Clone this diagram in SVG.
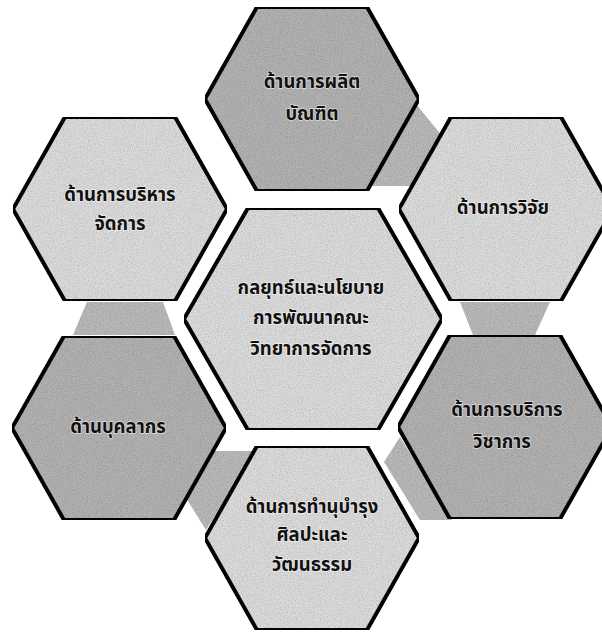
<svg xmlns="http://www.w3.org/2000/svg" width="602" height="634" viewBox="0 0 602 634">
<defs>
<polygon id="hex" points="-107,0 -55,-92 55,-92 107,0 55,92 -55,92"/>
<filter id="grain" x="0" y="0" width="100%" height="100%">
<feTurbulence type="fractalNoise" baseFrequency="0.85" numOctaves="2" seed="3" result="n"/>
<feColorMatrix in="n" type="matrix" values="0 0 0 0 0  0 0 0 0 0  0 0 0 0 0  0 0 0 -0.6 0.38" result="dark"/>
<feComposite in="dark" in2="SourceGraphic" operator="in" result="d2"/>
<feMerge><feMergeNode in="SourceGraphic"/><feMergeNode in="d2"/></feMerge>
</filter>
<style>
.hx{stroke:#111;stroke-width:4;stroke-linejoin:miter}
.light{fill:#dcdcdc}
.dark{fill:#b2b2b2}
.conn{fill:#bababa;stroke:none}
text{font-family:"Noto Sans Thai","Noto Sans Thai Looped","Tahoma","Loma","Garuda","Noto Sans",sans-serif;font-weight:bold;font-size:18.5px;fill:#111;text-anchor:middle;paint-order:stroke;stroke:#fff;stroke-width:1.5px;stroke-opacity:0.6}
</style>
</defs>
<rect width="602" height="634" fill="#fff"/>
<g id="connectors" filter="url(#grain)">
<polygon class="conn" points="416,104 442,136 412,186 371,186"/>
<polygon class="conn" points="460,302 550,302 535,335 473,335"/>
<polygon class="conn" points="384,462 400,437 452,520 420,520"/>
<polygon class="conn" points="210,451 256,451 206,530 186,498"/>
<polygon class="conn" points="87,302 163,302 175,335 73,335"/>
</g>
<g id="hex-top">
<use href="#hex" x="312" y="99" class="hx dark" filter="url(#grain)"/>
<text x="312" y="88">ด้านการผลิต</text>
<text x="312" y="120">บัณฑิต</text>
</g>
<g id="hex-topleft">
<use href="#hex" x="120" y="209" class="hx light" filter="url(#grain)"/>
<text x="120" y="201">ด้านการบริหาร</text>
<text x="120" y="230">จัดการ</text>
</g>
<g id="hex-topright">
<use href="#hex" x="506" y="209" class="hx light" filter="url(#grain)"/>
<text x="503" y="214">ด้านการวิจัย</text>
</g>
<g id="hex-center">
<polygon points="184,319 248,208 378,208 442,319 378,430 248,430" class="hx light" filter="url(#grain)"/>
<text x="311" y="294">กลยุทธ์และนโยบาย</text>
<text x="311" y="324">การพัฒนาคณะ</text>
<text x="311" y="355">วิทยาการจัดการ</text>
</g>
<g id="hex-bottomleft">
<use href="#hex" x="119" y="428" class="hx dark" filter="url(#grain)"/>
<text x="118" y="433">ด้านบุคลากร</text>
</g>
<g id="hex-bottomright">
<use href="#hex" x="505" y="427" class="hx dark" filter="url(#grain)"/>
<text x="507" y="416">ด้านการบริการ</text>
<text x="502" y="448">วิชาการ</text>
</g>
<g id="hex-bottom">
<use href="#hex" x="312" y="538" class="hx light" filter="url(#grain)"/>
<text x="312" y="513">ด้านการทำนุบำรุง</text>
<text x="312" y="541">ศิลปะและ</text>
<text x="312" y="571">วัฒนธรรม</text>
</g>
</svg>
